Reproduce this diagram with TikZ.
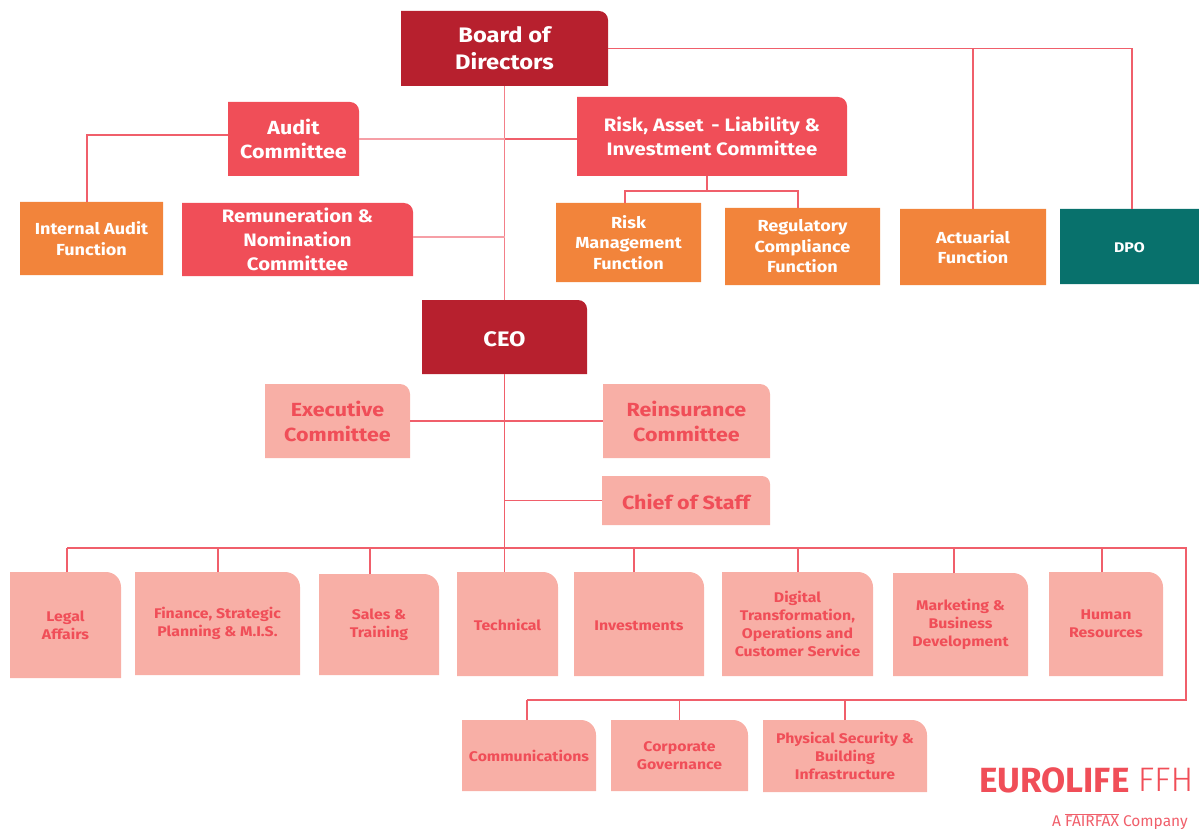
\documentclass[tikz,border=0pt]{standalone}
\usepackage{fontspec}
\setmainfont{Fira Sans}[BoldFeatures={FakeStretch=1.13}]
\newfontfamily\logofont{Fira Sans}
\newfontfamily\logothin{Fira Sans Light}
\usepackage{xcolor}
\usetikzlibrary{positioning}

\definecolor{darkred}{HTML}{B7202E}
\definecolor{midred}{HTML}{F04E58}
\definecolor{deptorange}{HTML}{F2843B}
\definecolor{dpoteal}{HTML}{08716C}
\definecolor{deptpink}{HTML}{F8AFA6}
\definecolor{linkred}{HTML}{F05F6B}

% rectangle with only the top right corner rounded
\def\tabradius{14pt}
\makeatletter
\pgfdeclareshape{tabbox}{
  \inheritsavedanchors[from=rectangle]
  \inheritanchorborder[from=rectangle]
  \inheritanchor[from=rectangle]{center}
  \inheritanchor[from=rectangle]{base}
  \inheritanchor[from=rectangle]{mid}
  \inheritanchor[from=rectangle]{north}
  \inheritanchor[from=rectangle]{south}
  \inheritanchor[from=rectangle]{east}
  \inheritanchor[from=rectangle]{west}
  \inheritanchor[from=rectangle]{north east}
  \inheritanchor[from=rectangle]{north west}
  \inheritanchor[from=rectangle]{south east}
  \inheritanchor[from=rectangle]{south west}
  \backgroundpath{
    \southwest \pgf@xa=\pgf@x \pgf@ya=\pgf@y
    \northeast \pgf@xb=\pgf@x \pgf@yb=\pgf@y
    \pgfpathmoveto{\pgfqpoint{\pgf@xa}{\pgf@ya}}
    \pgfpathlineto{\pgfqpoint{\pgf@xa}{\pgf@yb}}
    \pgfsetcornersarced{\pgfpoint{\tabradius}{\tabradius}}
    \pgfpathlineto{\pgfqpoint{\pgf@xb}{\pgf@yb}}
    \pgfsetcornersarced{\pgfpointorigin}
    \pgfpathlineto{\pgfqpoint{\pgf@xb}{\pgf@ya}}
    \pgfpathclose
  }
}
\makeatother

\tikzset{
  box/.style 2 args={shape=tabbox,inner sep=0pt,outer sep=0pt,align=center,
    minimum width=#1pt,minimum height=#2pt,
    execute at begin node={\rule{0pt}{.92em}}},
  corner/.code={\def\tabradius{#1pt}},
  darkbox/.style={fill=darkred,text=white,corner=9,font=\fontsize{21}{27}\selectfont\bfseries},
  redbox/.style={fill=midred,text=white,corner=9,font=\fontsize{19}{24.5}\selectfont\bfseries},
  orangebox/.style={fill=deptorange,text=white,corner=0.01,font=\fontsize{16}{20.5}\selectfont\bfseries},
  pinkbox/.style={fill=deptpink,text=midred,corner=10,font=\fontsize{19}{25}\selectfont\bfseries},
  deptbox/.style={fill=deptpink,text=midred,corner=15,font=\fontsize{14}{18}\selectfont\bfseries},
  link/.style={draw=linkred,line width=1.3pt},
  palelink/.style={draw=linkred!60,line width=1.3pt},
}

\begin{document}
\begin{tikzpicture}[x=1pt,y=-1pt]
\useasboundingbox (0,0) rectangle (1199,829);

\node[box={207}{75},darkbox] (board) at (504.5,48.5) {Board of\\Directors};
\node[box={270}{79},redbox,below right=11pt and -31pt of board.south east,font=\fontsize{18}{24}\selectfont\bfseries] (risk) {Risk, Asset\, - Liability \&\\Investment Committee};
\node[box={131}{74},redbox,below left=16pt and 42pt of board.south west] (audit) {Audit\\Committee};
\node[box={231}{73},redbox,below right=27pt and -46pt of audit.south west,font=\fontsize{18}{24}\selectfont\bfseries] (remun) {Remuneration \&\\Nomination\\Committee};
\node[box={143}{73},orangebox,below left=-1pt and 19pt of remun.north west] (internal) {Internal Audit\\Function};
\node[box={145}{79},orangebox,below right=27pt and -21pt of risk.south west] (riskfn) {Risk\\Management\\Function};
\node[box={155}{77},orangebox,below right=5pt and 24pt of riskfn.north east] (regfn) {Regulatory\\Compliance\\Function};
\node[box={146}{76},orangebox,below right=1pt and 20pt of regfn.north east] (actfn) {Actuarial\\Function};
\node[box={139}{75},orangebox,fill=dpoteal,below right=0pt and 14pt of actfn.north east,font=\fontsize{14}{18}\selectfont\bfseries] (dpo) {DPO};

\node[box={165}{74},darkbox,below=214pt of board] (ceo) {CEO};
\node[box={145}{74},pinkbox,below left=10pt and 12pt of ceo.south west] (exec) {Executive\\Committee};
\node[box={167}{74},pinkbox,below right=10pt and 16pt of ceo.south east] (reins) {Reinsurance\\Committee};
\node[box={168}{49},pinkbox,corner=8,below right=18pt and -1pt of reins.south west] (chief) {Chief of Staff};

\node[box={111}{106},deptbox,anchor=north west] (legal) at (10,572) {Legal\\Affairs};
\node[box={165}{103},deptbox,below right=0pt and 14pt of legal.north east] (finance) {Finance, Strategic\\Planning \& M.I.S.};
\node[box={120}{101},deptbox,below right=2pt and 19pt of finance.north east] (sales) {Sales \&\\Training};
\node[box={101}{104},deptbox,below right=-2pt and 18pt of sales.north east] (technical) {Technical};
\node[box={130}{104},deptbox,below right=0pt and 16pt of technical.north east] (invest) {Investments};
\node[box={151}{104},deptbox,below right=0pt and 18pt of invest.north east] (digital) {Digital\\Transformation,\\Operations and\\Customer Service};
\node[box={135}{103},deptbox,below right=1pt and 20pt of digital.north east] (market) {Marketing \&\\Business\\Development};
\node[box={114}{104},deptbox,below right=-1pt and 21pt of market.north east] (hr) {Human\\Resources};

\node[box={134}{71},deptbox,below right=44pt and 5pt of technical.south west] (comm) {Communications};
\node[box={137}{71},deptbox,below right=0pt and 15pt of comm.north east] (corp) {Corporate\\Governance};
\node[box={164}{72},deptbox,below right=0pt and 15pt of corp.north east] (phys) {Physical Security \&\\Building\\Infrastructure};

\node[anchor=west,inner sep=0pt,text=midred,font=\fontsize{35}{35}\selectfont\logofont\bfseries] (logo) at (979,780) {EUROLIFE};
\node[right=8pt of logo,inner sep=0pt,text=midred,font=\fontsize{34}{34}\selectfont\logothin] (ffh) {FFH};
\node[anchor=east,inner sep=0pt,text=linkred,font=\fontsize{15.5}{15.5}\selectfont\logofont] (fairfax) at (1188,822) {A \(\overline{\mbox{FAIRFAX}}\) Company};

\coordinate (riskbus) at (707,191);
\coordinate (busleft) at (67,548);
\coordinate (busright) at (1186,548);
\coordinate (lowright) at (1186,700);
\coordinate (lowleft) at (527,700);

\draw[link,draw=linkred!80] (board) -- (ceo);
\draw[link] (ceo.south) -- (ceo.south |- technical.north);
\draw[link] (board.east) -| ([xshift=2.5pt]dpo.north);
\draw[link] (board.east -| actfn.north) -- (actfn.north);
\draw[palelink] (audit.east) -- (audit.east -| board.south);
\draw[link] (audit.east -| board.south) -- (audit.east -| risk.west);
\draw[link] ([yshift=4pt]audit.west) -| ([xshift=-4.5pt]internal.north);
\draw[palelink] ([yshift=2.5pt]remun.east) -- ([yshift=2.5pt]remun.east -| board.south);
\draw[link] (riskbus |- risk.south) -- (riskbus);
\draw[link] ([xshift=-3.5pt]riskfn.north) |- (riskbus) -| ([xshift=-4.5pt]regfn.north);
\draw[link] (exec) -- (reins);
\draw[link] (chief.west) -- (chief.west -| ceo.south);

\draw[link] (busleft) -- (busright) -- (lowright) -- (lowleft);
\foreach \n/\d in {legal/1.5,finance/0.5,sales/-9,invest/-5,digital/0.5,market/-6.5,hr/-4}
  \draw[link] ([xshift=\d pt]\n.north) -- ([xshift=\d pt]\n.north |- busleft);
\foreach \n/\d in {comm/-2,corp/0,phys/0}
  \draw[link] ([xshift=\d pt]\n.north) -- ([xshift=\d pt]\n.north |- lowleft);
\end{tikzpicture}
\end{document}
